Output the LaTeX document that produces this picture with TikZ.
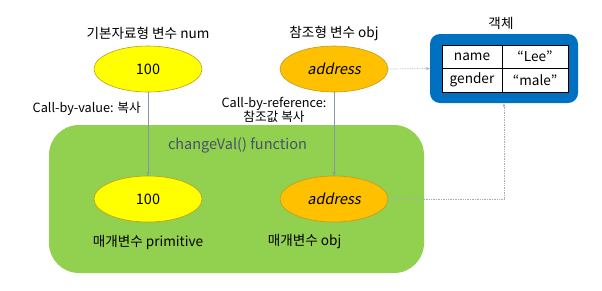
\documentclass[tikz,border=0pt]{standalone}
\usepackage{fontspec}
\setmainfont{Noto Sans CJK KR}
\newfontfamily\slantfont[FakeSlant=0.2]{Noto Sans CJK KR}
\usetikzlibrary{shapes.geometric,arrows.meta}
\definecolor{valyellow}{HTML}{FFFF00}
\definecolor{reforange}{HTML}{FFC000}
\definecolor{rimgold}{HTML}{C09A20}
\definecolor{fngreen}{HTML}{92D050}
\definecolor{objblue}{HTML}{0070C0}
\definecolor{linkgray}{HTML}{8496B0}
\definecolor{dotgray}{HTML}{A6ADBA}
\definecolor{fntext}{HTML}{44546A}
\tikzset{
  varblob/.style={ellipse, draw=rimgold, line width=0.6pt, minimum width=108pt,
    minimum height=46pt, inner sep=0pt, font=\fontsize{14.5}{16}\selectfont},
  caption/.style={font=\fontsize{13.6}{16}\selectfont, inner sep=0pt},
  note/.style={font=\fontsize{12.7}{14}\selectfont, inner sep=0pt, align=center},
  cell/.style={draw=black, line width=0.6pt, fill=white, minimum height=23.5pt,
    inner sep=0pt, font=\fontsize{13.6}{16}\selectfont},
  copylink/.style={draw=linkgray, line width=0.7pt, -{Stealth[length=4pt,width=3pt]}},
  reflink/.style={draw=dotgray, line width=0.7pt, densely dotted, -{Stealth[length=4pt,width=3pt]}}
}
\begin{document}
\begin{tikzpicture}[x=1pt,y=-1pt]
\useasboundingbox[fill=white] (0,0) rectangle (602,290);

% function scope
\node[draw=none, fill=fngreen, rounded corners=30pt, minimum width=375pt,
  minimum height=148pt, inner sep=0pt] (scope) at (236.5,199) {};
\node[font=\fontsize{14.5}{16}\selectfont, text=fntext, inner sep=0pt] (fname) at (237.5,145) {changeVal() function};

% caller variables
\node[varblob, fill=valyellow] (num) at (148,69) {100};
\node[varblob, fill=reforange] (obj) at (334,69) {\slantfont address};
\node[caption] (numlbl) at (148,33) {기본자료형 변수 num};
\node[caption] (objlbl) at (334,33) {참조형 변수 obj};

% parameters
\node[varblob, fill=valyellow] (prim) at (148,199) {100};
\node[varblob, fill=reforange] (pobj) at (334,199) {\slantfont address};
\node[caption] (primlbl) at (148,242) {매개변수 primitive};
\node[caption] (pobjlbl) at (304.5,242) {매개변수 obj};

% heap object
\node[fill=objblue, rounded corners=10pt, minimum width=148pt, minimum height=69pt,
  inner sep=0pt] (heap) at (504,68.5) {};
\node[caption] (heaplbl) at (501,23) {객체};
\node[cell, minimum width=60pt] (k1) at (472,56.75) {name};
\node[cell, minimum width=66pt] (v1) at (535,56.75) {“Lee”};
\node[cell, minimum width=60pt] (k2) at (472,80.25) {gender};
\node[cell, minimum width=66pt] (v2) at (535,80.25) {“male”};

% copy connectors
\draw[copylink] (num) -- (prim);
\draw[copylink] (obj) -- (pobj);
\node[note, anchor=east] (byval) at (141,109) {Call-by-value: 복사};
\node[note] (byref) at (274,110) {Call-by-reference:\\참조값 복사};

% references to the object
\coordinate (bend) at (504,199);
\draw[reflink] (obj.east) -- (heap.west);
\draw[reflink] (pobj.east) -- (bend) -- (heap.south);
\end{tikzpicture}
\end{document}
